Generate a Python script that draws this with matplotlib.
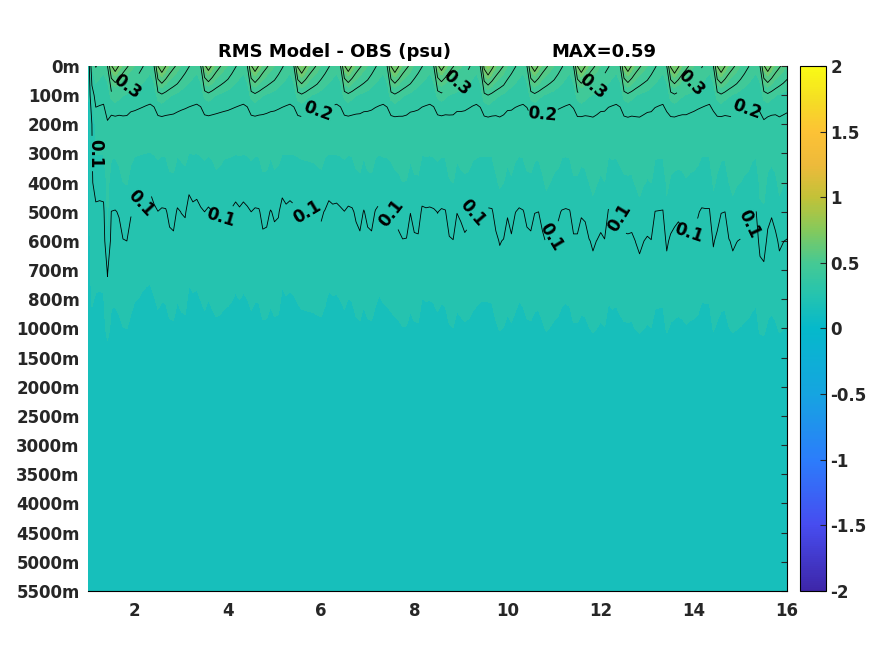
import numpy as np
import matplotlib.pyplot as plt
from matplotlib.colors import LinearSegmentedColormap, Normalize
from matplotlib.cm import ScalarMappable

# depth levels on the y axis (plotted as equally spaced rows)
depth_labels = ['0m', '100m', '200m', '300m', '400m', '500m', '600m', '700m', '800m',
                '1000m', '1500m', '2000m', '2500m', '3000m', '3500m', '4000m',
                '4500m', '5000m', '5500m']
x_ticks = [2, 4, 6, 8, 10, 12, 14, 16]
cbar_ticks = [-2, -1.5, -1, -0.5, 0, 0.5, 1, 1.5, 2]
cbar_labels = ['-2', '-1.5', '-1', '-0.5', '0', '0.5', '1', '1.5', '2']

# mean RMS profile below the surface layers (psu), one value per level
rms_base = [0.30, 0.24, 0.168, 0.160, 0.148, 0.104, 0.089, 0.077, 0.061, 0.044,
            0.031, 0.027, 0.025, 0.023, 0.022, 0.021, 0.021, 0.020, 0.020]
# how strongly each level follows the month to month depth of the 0.1 line
shift_weight = [0, 0, 0.2, 0.5, 0.8, 1, 1, 1, 0.9, 0.6, 0.1, 0, 0, 0, 0, 0, 0, 0, 0]

# first two months of the record (lower errors)
first_month = [0.02, 0.02, 0.02, 0.02, 0.02, 0.02, 0.02, 0.02, 0.02, 0.02,
               0.02, 0.02, 0.02, 0.02, 0.02, 0.02, 0.02, 0.02, 0.02]
second_month = [0.26, 0.17, 0.10, 0.095, 0.095, 0.09, 0.08, 0.07, 0.055, 0.04,
                0.03, 0.027, 0.025, 0.023, 0.022, 0.021, 0.021, 0.020, 0.020]

# seasonal cycle of the two upper levels (fast rise, slow decay)
month_shape = [0.30, 0.20, 0.12, 0.05, 0.0, 0.10, 0.80, 1.0, 0.80, 0.62, 0.50, 0.40]
surf_low = 0.27
surf_peak = [0.55, 0.56, 0.54, 0.55, 0.57, 0.55, 0.56, 0.54, 0.59, 0.55,
             0.56, 0.55, 0.57, 0.56, 0.55]
sub_low = 0.215
sub_peak = [0.285, 0.29, 0.28, 0.285, 0.29, 0.285, 0.29, 0.28, 0.30, 0.285,
            0.29, 0.285, 0.29, 0.29, 0.285]

# depth (m) of the 0.1 psu isoline, monthly from month 1
depth01 = [380, 425, 440, 435, 440, 725, 495, 485, 520, 585, 600, 520,
           470, 460, 435, 420, 410, 450, 495, 470, 475, 540, 550, 470,
           505, 520, 415, 440, 430, 465, 500, 465, 495, 530, 520, 495,
           485, 470, 440, 465, 440, 460, 500, 470, 475, 545, 540, 485,
           530, 520, 425, 450, 435, 450, 475, 495, 500, 505, 510, 520,
           530, 485, 435, 450, 445, 465, 495, 460, 470, 530, 550, 485,
           540, 550, 485, 450, 475, 485, 505, 530, 550, 585, 580, 505,
           555, 560, 460, 470, 465, 475, 505, 475, 485, 570, 590, 505,
           530, 555, 540, 505, 485, 470, 470, 470, 475, 550, 615, 585,
           520, 560, 505, 470, 485, 540, 550, 505, 500, 550, 620, 585,
           550, 530, 485, 475, 485, 560, 560, 520, 530, 585, 630, 595,
           555, 585, 475, 495, 485, 520, 555, 560, 555, 605, 635, 605,
           570, 590, 495, 490, 485, 630, 560, 540, 530, 540, 570, 550,
           540, 520, 470, 475, 475, 620, 550, 505, 500, 585, 630, 605,
           585, 560, 540, 505, 485, 640, 655, 545, 520, 550, 630, 605,
           585]

# contour label placement (x in years)
lab01_x = [1.12, 2.05, 3.85, 5.7, 7.5, 9.25, 10.9, 12.4, 13.85, 15.15]
lab02_x = [5.9, 10.8, 15.1]
lab03_x = [1.75, 8.9, 11.75, 13.9]

# parula-like colormap
parula = LinearSegmentedColormap.from_list('parula', [
    (0.000, (0.242, 0.150, 0.660)),
    (0.125, (0.278, 0.300, 0.940)),
    (0.250, (0.170, 0.490, 0.985)),
    (0.375, (0.085, 0.645, 0.880)),
    (0.500, (0.020, 0.725, 0.795)),
    (0.5625, (0.140, 0.765, 0.690)),
    (0.625, (0.270, 0.790, 0.580)),
    (0.6875, (0.520, 0.790, 0.360)),
    (0.750, (0.760, 0.760, 0.220)),
    (0.8125, (0.930, 0.730, 0.230)),
    (0.875, (0.990, 0.760, 0.210)),
    (0.9375, (0.960, 0.870, 0.140)),
    (1.000, (0.977, 0.984, 0.081))])

nlev = len(depth_labels)
nt = len(depth01)
lev = np.arange(nlev)
xval = 1 + np.arange(nt) / 12.0
base = np.array(rms_base)
w = np.array(shift_weight)
cross_base = np.interp(-0.1, -base, lev)

Z = np.zeros((nlev, nt))
for j in range(nt):
    shift = depth01[j] / 100.0 - cross_base
    prof = np.interp(lev - w * shift, lev, base)
    m = j % 12
    yr = min(j // 12, len(surf_peak) - 1)
    prof[0] = surf_low + (surf_peak[yr] - surf_low) * month_shape[m]
    prof[1] = sub_low + (sub_peak[yr] - sub_low) * month_shape[m]
    Z[:, j] = prof
Z[:, 0] = first_month
Z[:, 1] = second_month

plt.rcParams['font.family'] = 'DejaVu Sans'
plt.rcParams['font.weight'] = 'bold'

fig = plt.figure(figsize=(8.75, 6.56), dpi=100)
ax = fig.add_axes([0.1006, 0.0991, 0.799, 0.8003])
cax = fig.add_axes([0.914, 0.0991, 0.0297, 0.8003])

# filled bands take the colour of their upper level (as in the original)
fill_levels = np.linspace(-2, 2, 40)
ax.contourf(xval, lev, Z, levels=fill_levels, cmap=parula, vmin=-2.15, vmax=1.85)
cs = ax.contour(xval, lev, Z, levels=[0.1, 0.2, 0.3, 0.4, 0.5], colors='k', linewidths=0.6)

pos01 = [(xx, depth01[int(round((xx - 1) * 12))] / 100.0) for xx in lab01_x]
pos01[0] = (lab01_x[0], 3.0)
pos02 = [(xx, 1.4) for xx in lab02_x]
pos03 = [(xx, 0.5) for xx in lab03_x]
labs = ax.clabel(cs, levels=[0.1, 0.2, 0.3], fmt='%.1f', fontsize=12, inline=True,
                 inline_spacing=3, manual=pos01 + pos02 + pos03)
for t in labs:
    t.set_fontweight('bold')
    px, py = t.get_position()
    if px < 1.3:
        # the edge label reads downwards and sits just inside the frame
        t.set_rotation(-90)
        t.set_position((px + 0.06, py))

ax.set_xlim(1, 16)
ax.set_ylim(nlev - 1, 0)
ax.set_xticks(x_ticks)
ax.set_xticklabels([str(v) for v in x_ticks])
ax.set_yticks(lev)
ax.set_yticklabels(depth_labels)
ax.tick_params(axis='both', labelsize=12, colors='#262626')
ax.tick_params(axis='x', length=0, pad=8)
ax.tick_params(axis='y', left=False, right=True, direction='in', length=4, pad=6)
ax.spines['left'].set_visible(False)
ax.spines['top'].set_visible(False)
ax.spines['right'].set_linewidth(0.8)
ax.spines['bottom'].set_linewidth(0.8)

ax.text(0.353, 1.027, 'RMS Model - OBS (psu)', transform=ax.transAxes, ha='center',
        va='center', fontsize=13, fontweight='bold')
ax.text(0.738, 1.027, 'MAX=%.2f' % Z.max(), transform=ax.transAxes, ha='center',
        va='center', fontsize=13, fontweight='bold')

sm = ScalarMappable(norm=Normalize(-2, 2), cmap=parula)
cb = fig.colorbar(sm, cax=cax, ticks=cbar_ticks)
cb.ax.set_yticklabels(cbar_labels)
cb.ax.tick_params(labelsize=12, colors='#262626', direction='in', length=4)
cb.outline.set_linewidth(0.8)

fig.savefig('out.png', dpi=100)
